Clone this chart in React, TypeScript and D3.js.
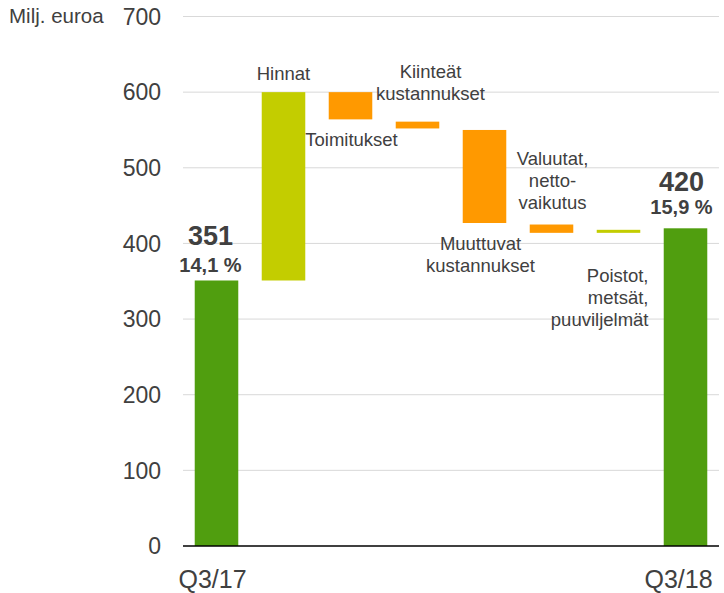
import React from "react";
import * as d3 from "d3";

// ---- data ----
const categories = [
  "Q3/17",
  "Hinnat",
  "Toimitukset",
  "Kiinteät kustannukset",
  "Muuttuvat kustannukset",
  "Valuutat, nettovaikutus",
  "Poistot, metsät, puuviljelmät",
  "Q3/18",
];
const barStart = [0, 351, 600, 561, 550, 425, 414, 0];
const barEnd = [351, 600, 564, 552, 427, 414, 418, 420];
const barKind = ["total", "up", "down", "down", "down", "down", "up", "total"];
const labelLines = [
  ["351", "14,1 %"],
  ["Hinnat"],
  ["Toimitukset"],
  ["Kiinteät", "kustannukset"],
  ["Muuttuvat", "kustannukset"],
  ["Valuutat,", "netto-", "vaikutus"],
  ["Poistot,", "metsät,", "puuviljelmät"],
  ["420", "15,9 %"],
];
const yTicks = [0, 100, 200, 300, 400, 500, 600, 700];
const xAxisLabels = ["Q3/17", "Q3/18"];
const unitLabel = "Milj. euroa";

// ---- layout (not data) ----
const W = 724;
const H = 593;
const colors: Record<string, string> = {
  total: "#509E0F",
  up: "#C3CD00",
  down: "#FF9900",
};
const textColor = "#404040";
const font = "'Liberation Sans', Arial, sans-serif";

const labelLayout = [
  { dx: -6, anchor: "middle", ref: "top", dys: [-35, -8], sizes: [27, 20], bold: true },
  { dx: 0, anchor: "middle", ref: "top", dys: [-12], sizes: [18.5], bold: false },
  { dx: 1, anchor: "middle", ref: "bottom", dys: [27], sizes: [18.5], bold: false },
  { dx: 13, anchor: "middle", ref: "top", dys: [-44, -22], sizes: [18.5, 18.5], bold: false },
  { dx: -4, anchor: "middle", ref: "bottom", dys: [27, 49], sizes: [18.5, 18.5], bold: false },
  { dx: 1, anchor: "middle", ref: "top", dys: [-60, -38, -16], sizes: [18.5, 18.5, 18.5], bold: false },
  { dx: 30, anchor: "end", ref: "bottom", dys: [49, 71, 93], sizes: [18.5, 18.5, 18.5], bold: false },
  { dx: -4, anchor: "middle", ref: "top", dys: [-37, -14], sizes: [27, 20], bold: true },
];
const xLabelDx = [-4, -7];

export default function App() {
  const x = d3
    .scaleBand<string>()
    .domain(categories)
    .range([183, 719])
    .paddingInner(0.35)
    .paddingOuter(0.175);
  const y = d3.scaleLinear().domain([0, 700]).range([546, 16.5]);
  const bw = x.bandwidth();

  return (
    <svg
      width={W}
      height={H}
      style={{ position: "absolute", left: 0, top: 0, background: "#fff" }}
      fontFamily={font}
    >
      {yTicks
        .filter((t) => t > 0)
        .map((t) => (
          <line
            key={"g" + t}
            x1={183}
            x2={719}
            y1={y(t)}
            y2={y(t)}
            stroke="#d9d9d9"
            strokeWidth={1}
          />
        ))}
      {yTicks.map((t) => (
        <text
          key={"t" + t}
          x={161}
          y={y(t)}
          dy="0.36em"
          textAnchor="end"
          fontSize={23}
          fill={textColor}
        >
          {t}
        </text>
      ))}
      <text x={9} y={23} fontSize={20.5} fill={textColor}>
        {unitLabel}
      </text>
      {categories.map((c, i) => {
        const y0 = y(Math.max(barStart[i], barEnd[i]));
        const y1 = y(Math.min(barStart[i], barEnd[i]));
        return (
          <rect
            key={"b" + i}
            x={x(c)}
            y={y0}
            width={bw}
            height={y1 - y0}
            fill={colors[barKind[i]]}
          />
        );
      })}
      <line x1={183} x2={719} y1={y(0)} y2={y(0)} stroke="#000" strokeWidth={1.3} />
      {[0, categories.length - 1].map((i, k) => (
        <text
          key={"x" + i}
          x={(x(categories[i]) as number) + bw / 2 + xLabelDx[k]}
          y={588}
          textAnchor="middle"
          fontSize={25}
          fill={textColor}
        >
          {xAxisLabels[k]}
        </text>
      ))}
      {categories.map((c, i) => {
        const L = labelLayout[i];
        const cx = (x(c) as number) + bw / 2 + L.dx;
        const refY =
          L.ref === "top"
            ? y(Math.max(barStart[i], barEnd[i]))
            : y(Math.min(barStart[i], barEnd[i]));
        return (
          <g key={"l" + i}>
            {labelLines[i].map((ln, j) => (
              <text
                key={j}
                x={cx}
                y={refY + L.dys[j]}
                textAnchor={L.anchor as any}
                fontSize={L.sizes[j]}
                fontWeight={L.bold ? "bold" : "normal"}
                fill={textColor}
              >
                {ln}
              </text>
            ))}
          </g>
        );
      })}
    </svg>
  );
}
